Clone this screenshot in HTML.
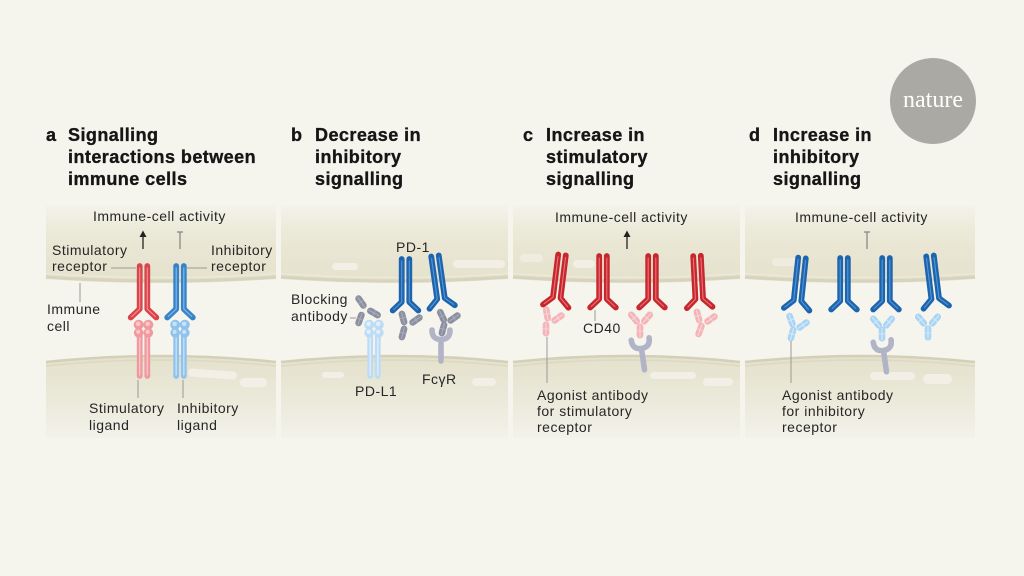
<!DOCTYPE html>
<html><head><meta charset="utf-8"><style>
html,body{margin:0;padding:0;background:#f5f4ed;}
svg{display:block;}
.lab{font-family:"Liberation Sans",sans-serif;font-size:14px;fill:#262626;letter-spacing:0.5px;}
.h{font-family:"Liberation Sans",sans-serif;font-size:18px;font-weight:bold;fill:#161616;letter-spacing:0.45px;stroke:#161616;stroke-width:0.35px;}
.ld{stroke:#9a9a95;stroke-width:1;fill:none;}
.pill{fill:#f2f0e6;}
</style></head><body>
<svg width="1024" height="576" viewBox="0 0 1024 576" xmlns="http://www.w3.org/2000/svg">
<defs>
<linearGradient id="gt" gradientUnits="userSpaceOnUse" x1="0" y1="205" x2="0" y2="283">
<stop offset="0" stop-color="#f4f3ec"/><stop offset="0.35" stop-color="#ebe9d7"/><stop offset="1" stop-color="#e4e1cc"/>
</linearGradient>
<linearGradient id="gb" gradientUnits="userSpaceOnUse" x1="0" y1="352" x2="0" y2="438">
<stop offset="0" stop-color="#e3e0ca"/><stop offset="0.5" stop-color="#eae8d8"/><stop offset="1" stop-color="#f3f2ea"/>
</linearGradient>
<g id="rec" fill="none" stroke-linecap="round" stroke-linejoin="round">
<path d="M-3.8,0 V43 L-12.8,51.5 M3.8,0 V43 L12.8,51.5" style="stroke:var(--m)" stroke-width="5.8"/>
<path d="M-3.8,2 V43 L-11.8,50.5 M3.8,2 V43 L11.8,50.5" style="stroke:var(--h)" stroke-width="1.1"/>
</g>
<g id="lig">
<path d="M-3.8,14 V56 M3.8,14 V56" fill="none" style="stroke:var(--m)" stroke-width="5.8" stroke-linecap="round"/>
<path d="M-3.8,15 V55 M3.8,15 V55" fill="none" style="stroke:var(--h)" stroke-width="1.3" stroke-linecap="round"/>
<circle cx="-4.8" cy="4.8" r="5" style="fill:var(--m)"/>
<circle cx="4.8" cy="4.8" r="5" style="fill:var(--m)"/>
<circle cx="-4.8" cy="12.8" r="4.8" style="fill:var(--m)"/>
<circle cx="4.8" cy="12.8" r="4.8" style="fill:var(--m)"/>
<circle cx="-5.4" cy="3.9" r="2.3" style="fill:var(--h)"/>
<circle cx="4.2" cy="3.9" r="2.3" style="fill:var(--h)"/>
<circle cx="-5.4" cy="11.9" r="2.1" style="fill:var(--h)"/>
<circle cx="4.2" cy="11.9" r="2.1" style="fill:var(--h)"/>
</g>
<g id="cap">
<rect x="-3.3" y="-7.5" width="6.6" height="15" rx="3.3" style="fill:var(--m)"/>
<line x1="0" y1="-5.8" x2="0" y2="5.8" style="stroke:var(--h)" stroke-width="1.1" stroke-linecap="round"/>
<line x1="-3.3" y1="0" x2="3.3" y2="0" style="stroke:var(--h)" stroke-width="0.9"/>
</g>
<g id="fc">
<path d="M-9,-6 Q-9,3.5 0,3.5 Q9,3.5 9,-6 M0,3.5 V25" fill="none" style="stroke:var(--m)" stroke-width="5.6" stroke-linecap="round" stroke-linejoin="round"/>
</g>
</defs>

<rect width="1024" height="576" fill="#f5f4ed"/>

<!-- Nature logo -->
<circle cx="933" cy="101" r="43" fill="#aaa9a4"/>
<text x="933" y="107" text-anchor="middle" font-family="Liberation Serif, serif" font-size="24" fill="#ffffff">nature</text>

<!-- Headers -->
<text class="h" x="46" y="141">a</text>
<text class="h" x="68" y="141">Signalling</text>
<text class="h" x="68" y="163">interactions between</text>
<text class="h" x="68" y="185">immune cells</text>

<text class="h" x="291" y="141">b</text>
<text class="h" x="315" y="141">Decrease in</text>
<text class="h" x="315" y="163">inhibitory</text>
<text class="h" x="315" y="185">signalling</text>

<text class="h" x="523" y="141">c</text>
<text class="h" x="546" y="141">Increase in</text>
<text class="h" x="546" y="163">stimulatory</text>
<text class="h" x="546" y="185">signalling</text>

<text class="h" x="749" y="141">d</text>
<text class="h" x="773" y="141">Increase in</text>
<text class="h" x="773" y="163">inhibitory</text>
<text class="h" x="773" y="185">signalling</text>

<!-- Cells -->
<g>
<path d="M46,205 H276 V279 Q161,287 46,279 Z" fill="url(#gt)"/>
<path d="M46,277 Q161,285 276,277" stroke="#d7d3bc" stroke-width="3" fill="none"/>
<path d="M46,273.5 Q161,281.5 276,273.5" stroke="#eeebdd" stroke-width="1" fill="none"/>
<path d="M46,362 Q161,350 276,362 V438 H46 Z" fill="url(#gb)"/>
<path d="M46,362 Q161,350 276,362" stroke="#d4d0b8" stroke-width="2.5" fill="none"/>
<path d="M46,366 Q161,354 276,366" stroke="#dcd8c3" stroke-width="1.5" fill="none"/>

<path d="M281,205 H508 V279 Q394.5,287 281,279 Z" fill="url(#gt)"/>
<path d="M281,277 Q394.5,285 508,277" stroke="#d7d3bc" stroke-width="3" fill="none"/>
<path d="M281,273.5 Q394.5,281.5 508,273.5" stroke="#eeebdd" stroke-width="1" fill="none"/>
<path d="M281,362 Q394.5,350 508,362 V438 H281 Z" fill="url(#gb)"/>
<path d="M281,362 Q394.5,350 508,362" stroke="#d4d0b8" stroke-width="2.5" fill="none"/>
<path d="M281,366 Q394.5,354 508,366" stroke="#dcd8c3" stroke-width="1.5" fill="none"/>

<path d="M513,205 H740 V279 Q626.5,287 513,279 Z" fill="url(#gt)"/>
<path d="M513,277 Q626.5,285 740,277" stroke="#d7d3bc" stroke-width="3" fill="none"/>
<path d="M513,273.5 Q626.5,281.5 740,273.5" stroke="#eeebdd" stroke-width="1" fill="none"/>
<path d="M513,362 Q626.5,350 740,362 V438 H513 Z" fill="url(#gb)"/>
<path d="M513,362 Q626.5,350 740,362" stroke="#d4d0b8" stroke-width="2.5" fill="none"/>
<path d="M513,366 Q626.5,354 740,366" stroke="#dcd8c3" stroke-width="1.5" fill="none"/>

<path d="M745,205 H975 V279 Q860,287 745,279 Z" fill="url(#gt)"/>
<path d="M745,277 Q860,285 975,277" stroke="#d7d3bc" stroke-width="3" fill="none"/>
<path d="M745,273.5 Q860,281.5 975,273.5" stroke="#eeebdd" stroke-width="1" fill="none"/>
<path d="M745,362 Q860,350 975,362 V438 H745 Z" fill="url(#gb)"/>
<path d="M745,362 Q860,350 975,362" stroke="#d4d0b8" stroke-width="2.5" fill="none"/>
<path d="M745,366 Q860,354 975,366" stroke="#dcd8c3" stroke-width="1.5" fill="none"/>
</g>

<!-- Pills -->
<rect class="pill" x="188" y="370" width="49" height="8" rx="4" transform="rotate(4 212 374)"/>
<rect class="pill" x="240" y="378" width="27" height="9" rx="4.5"/>
<rect class="pill" x="332" y="263" width="26" height="7" rx="3.5"/>
<rect class="pill" x="453" y="260" width="52" height="8" rx="4"/>
<rect class="pill" x="322" y="372" width="22" height="6" rx="3"/>
<rect class="pill" x="472" y="378" width="24" height="8" rx="4"/>
<rect class="pill" x="520" y="254" width="23" height="8" rx="4" opacity="0.7"/>
<rect class="pill" x="573" y="260" width="22" height="8" rx="4"/>
<rect class="pill" x="650" y="372" width="46" height="7" rx="3.5"/>
<rect class="pill" x="703" y="378" width="30" height="8" rx="4"/>
<rect class="pill" x="772" y="258" width="26" height="8" rx="4" opacity="0.7"/>
<rect class="pill" x="870" y="372" width="45" height="8" rx="4"/>
<rect class="pill" x="923" y="374" width="29" height="10" rx="5"/>

<!-- Panel a -->
<text class="lab" x="93" y="221">Immune-cell activity</text>
<line x1="143" y1="249" x2="143" y2="236" stroke="#222" stroke-width="1.3"/>
<path d="M139.5,237 L143,230.5 L146.5,237 Z" fill="#222"/>
<line x1="180" y1="249" x2="180" y2="232" stroke="#8a8a88" stroke-width="1.3"/>
<line x1="177" y1="232" x2="183" y2="232" stroke="#8a8a88" stroke-width="1.3"/>
<text class="lab" x="52" y="255">Stimulatory</text>
<text class="lab" x="52" y="271">receptor</text>
<line class="ld" x1="111" y1="268" x2="136" y2="268"/>
<text class="lab" x="211" y="255">Inhibitory</text>
<text class="lab" x="211" y="271">receptor</text>
<line class="ld" x1="187" y1="268" x2="207" y2="268"/>
<line class="ld" x1="80" y1="283" x2="80" y2="302"/>
<text class="lab" x="47" y="314">Immune</text>
<text class="lab" x="47" y="331">cell</text>
<line class="ld" x1="138" y1="380" x2="138" y2="398"/>
<line class="ld" x1="183" y1="380" x2="183" y2="398"/>
<text class="lab" x="89" y="413">Stimulatory</text>
<text class="lab" x="89" y="430">ligand</text>
<text class="lab" x="177" y="413">Inhibitory</text>
<text class="lab" x="177" y="430">ligand</text>
<use href="#lig" transform="translate(143.5,320)" style="--m:#f09aa0;--h:#f8c6c9"/>
<use href="#lig" transform="translate(180,320)" style="--m:#8fc3ee;--h:#c6e2f8"/>
<use href="#rec" transform="translate(143.5,266)" style="--m:#d9454b;--h:#f29195"/>
<use href="#rec" transform="translate(180,266)" style="--m:#3783c8;--h:#86bbe9"/>

<!-- Panel b -->
<text class="lab" x="396" y="252">PD-1</text>
<text class="lab" x="291" y="304">Blocking</text>
<text class="lab" x="291" y="321">antibody</text>
<line class="ld" x1="350" y1="318" x2="356" y2="318"/>
<text class="lab" x="355" y="396">PD-L1</text>
<text class="lab" x="422" y="384">FcγR</text>
<use href="#lig" transform="translate(374,320)" style="--m:#bcdcf6;--h:#e0effb"/>
<use href="#fc" transform="translate(441,336)" style="--m:#b1b4c7"/>
<use href="#rec" transform="translate(405.5,259)" style="--m:#1c64ae;--h:#5796d6"/>
<use href="#rec" transform="translate(435,256) rotate(-8)" style="--m:#1c64ae;--h:#5796d6"/>
<g style="--m:#8c8fa0;--h:#a9acbb">
<use href="#cap" transform="translate(361,302) rotate(-35)"/>
<use href="#cap" transform="translate(374,313) rotate(-60)"/>
<use href="#cap" transform="translate(360,319) rotate(20)"/>
<use href="#cap" transform="translate(403,318) rotate(-15)"/>
<use href="#cap" transform="translate(416,320) rotate(55)"/>
<use href="#cap" transform="translate(403,333) rotate(15)"/>
<use href="#cap" transform="translate(442,316) rotate(-25)"/>
<use href="#cap" transform="translate(454,318) rotate(55)"/>
<use href="#cap" transform="translate(443,329) rotate(15)"/>
</g>

<!-- Panel c -->
<text class="lab" x="555" y="222">Immune-cell activity</text>
<line x1="627" y1="249" x2="627" y2="236" stroke="#222" stroke-width="1.3"/>
<path d="M623.5,237 L627,230.5 L630.5,237 Z" fill="#222"/>
<use href="#rec" transform="translate(562,255) rotate(7)" style="--m:#c7262d;--h:#ea7479"/>
<use href="#rec" transform="translate(603,256)" style="--m:#c7262d;--h:#ea7479"/>
<use href="#rec" transform="translate(652,256)" style="--m:#c7262d;--h:#ea7479"/>
<use href="#rec" transform="translate(697,256) rotate(-3)" style="--m:#c7262d;--h:#ea7479"/>
<line class="ld" x1="595" y1="310" x2="595" y2="321"/>
<text class="lab" x="583" y="333">CD40</text>
<use href="#fc" transform="translate(641,345) rotate(-8)" style="--m:#b1b4c7"/>
<g style="--m:#f4b3b7;--h:#fad6d8">
<use href="#cap" transform="translate(547,314) rotate(-10)"/>
<use href="#cap" transform="translate(558,318) rotate(55)"/>
<use href="#cap" transform="translate(546,329)"/>
<use href="#cap" transform="translate(634,318) rotate(-40)"/>
<use href="#cap" transform="translate(647,318) rotate(40)"/>
<use href="#cap" transform="translate(640,331)"/>
<use href="#cap" transform="translate(698,316) rotate(-15)"/>
<use href="#cap" transform="translate(711,319) rotate(55)"/>
<use href="#cap" transform="translate(700,330) rotate(20)"/>
</g>
<line class="ld" x1="547" y1="337" x2="547" y2="383"/>
<text class="lab" x="537" y="400">Agonist antibody</text>
<text class="lab" x="537" y="416">for stimulatory</text>
<text class="lab" x="537" y="432">receptor</text>

<!-- Panel d -->
<text class="lab" x="795" y="222">Immune-cell activity</text>
<line x1="867" y1="249" x2="867" y2="232" stroke="#8a8a88" stroke-width="1.3"/>
<line x1="864" y1="232" x2="870" y2="232" stroke="#8a8a88" stroke-width="1.3"/>
<use href="#rec" transform="translate(802,258) rotate(6)" style="--m:#1c64ae;--h:#5796d6"/>
<use href="#rec" transform="translate(844,258)" style="--m:#1c64ae;--h:#5796d6"/>
<use href="#rec" transform="translate(886,258)" style="--m:#1c64ae;--h:#5796d6"/>
<use href="#rec" transform="translate(930,256) rotate(-7)" style="--m:#1c64ae;--h:#5796d6"/>
<use href="#fc" transform="translate(883,347) rotate(-8)" style="--m:#b1b4c7"/>
<g style="--m:#a9d4f4;--h:#d4eafb">
<use href="#cap" transform="translate(791,320) rotate(-20)"/>
<use href="#cap" transform="translate(803,325) rotate(55)"/>
<use href="#cap" transform="translate(792,334) rotate(15)"/>
<use href="#cap" transform="translate(876,322) rotate(-40)"/>
<use href="#cap" transform="translate(889,322) rotate(40)"/>
<use href="#cap" transform="translate(882,334)"/>
<use href="#cap" transform="translate(921,320) rotate(-40)"/>
<use href="#cap" transform="translate(935,320) rotate(40)"/>
<use href="#cap" transform="translate(928,333)"/>
</g>
<line class="ld" x1="791" y1="341" x2="791" y2="383"/>
<text class="lab" x="782" y="400">Agonist antibody</text>
<text class="lab" x="782" y="416">for inhibitory</text>
<text class="lab" x="782" y="432">receptor</text>
</svg>
</body></html>
